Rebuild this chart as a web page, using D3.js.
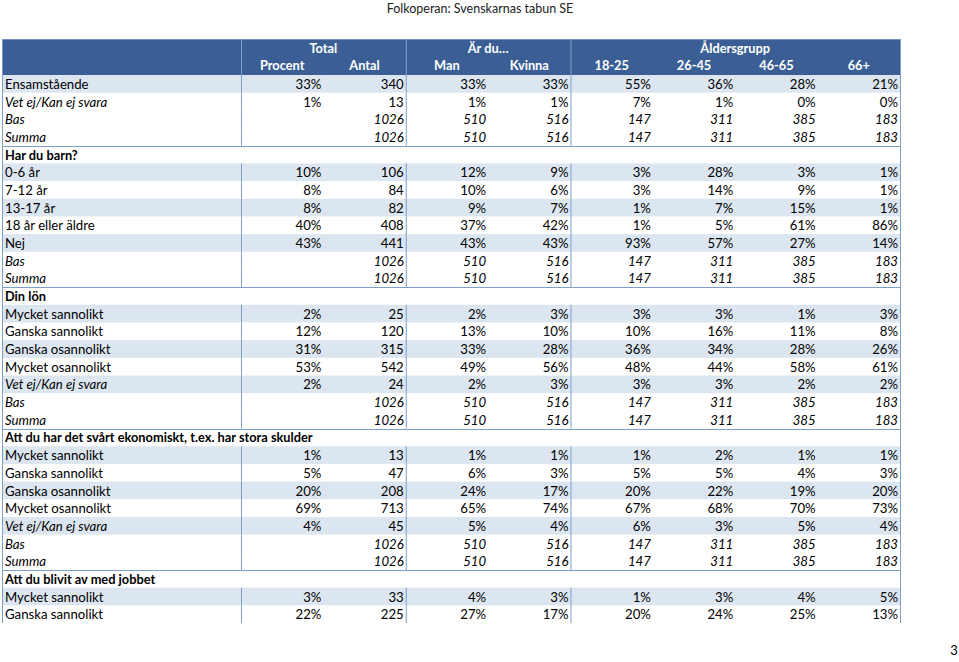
<!DOCTYPE html>
<html>
<head>
<meta charset="utf-8">
<script src="https://cdn.jsdelivr.net/npm/d3@7"></script>
<style>
  html, body { margin: 0; padding: 0; background: #fff; }
  svg { display: block; }
</style>
</head>
<body>
<script>
const title = "Folkoperan: Svenskarnas tabun SE";
const pageNumber = "3";
const groupLabels = ["Total", "Är du…", "Åldersgrupp"];
const groupSpans = [2, 2, 4];
const columnLabels = ["Procent", "Antal", "Man", "Kvinna", "18-25", "26-45", "46-65", "66+"];

const sectionTitles = ["", "Har du barn?", "Din lön",
  "Att du har det svårt ekonomiskt, t.ex. har stora skulder", "Att du blivit av med jobbet"];

const section0Labels = ["Ensamstående", "Vet ej/Kan ej svara", "Bas", "Summa"];
const section0Values = [
  ["33%", "340", "33%", "33%", "55%", "36%", "28%", "21%"],
  ["1%", "13", "1%", "1%", "7%", "1%", "0%", "0%"],
  ["", "1026", "510", "516", "147", "311", "385", "183"],
  ["", "1026", "510", "516", "147", "311", "385", "183"]
];
const section1Labels = ["0-6 år", "7-12 år", "13-17 år", "18 år eller äldre", "Nej", "Bas", "Summa"];
const section1Values = [
  ["10%", "106", "12%", "9%", "3%", "28%", "3%", "1%"],
  ["8%", "84", "10%", "6%", "3%", "14%", "9%", "1%"],
  ["8%", "82", "9%", "7%", "1%", "7%", "15%", "1%"],
  ["40%", "408", "37%", "42%", "1%", "5%", "61%", "86%"],
  ["43%", "441", "43%", "43%", "93%", "57%", "27%", "14%"],
  ["", "1026", "510", "516", "147", "311", "385", "183"],
  ["", "1026", "510", "516", "147", "311", "385", "183"]
];
const section2Labels = ["Mycket sannolikt", "Ganska sannolikt", "Ganska osannolikt", "Mycket osannolikt", "Vet ej/Kan ej svara", "Bas", "Summa"];
const section2Values = [
  ["2%", "25", "2%", "3%", "3%", "3%", "1%", "3%"],
  ["12%", "120", "13%", "10%", "10%", "16%", "11%", "8%"],
  ["31%", "315", "33%", "28%", "36%", "34%", "28%", "26%"],
  ["53%", "542", "49%", "56%", "48%", "44%", "58%", "61%"],
  ["2%", "24", "2%", "3%", "3%", "3%", "2%", "2%"],
  ["", "1026", "510", "516", "147", "311", "385", "183"],
  ["", "1026", "510", "516", "147", "311", "385", "183"]
];
const section3Labels = ["Mycket sannolikt", "Ganska sannolikt", "Ganska osannolikt", "Mycket osannolikt", "Vet ej/Kan ej svara", "Bas", "Summa"];
const section3Values = [
  ["1%", "13", "1%", "1%", "1%", "2%", "1%", "1%"],
  ["5%", "47", "6%", "3%", "5%", "5%", "4%", "3%"],
  ["20%", "208", "24%", "17%", "20%", "22%", "19%", "20%"],
  ["69%", "713", "65%", "74%", "67%", "68%", "70%", "73%"],
  ["4%", "45", "5%", "4%", "6%", "3%", "5%", "4%"],
  ["", "1026", "510", "516", "147", "311", "385", "183"],
  ["", "1026", "510", "516", "147", "311", "385", "183"]
];
const section4Labels = ["Mycket sannolikt", "Ganska sannolikt"];
const section4Values = [
  ["3%", "33", "4%", "3%", "1%", "3%", "4%", "5%"],
  ["22%", "225", "27%", "17%", "20%", "24%", "25%", "13%"]
];

const sectionLabels = [section0Labels, section1Labels, section2Labels, section3Labels, section4Labels];
const sectionValues = [section0Values, section1Values, section2Values, section3Values, section4Values];

// Build flat row list
const rows = [];
sectionTitles.forEach((t, s) => {
  if (t) rows.push({ type: "section", label: t });
  let k = 0;
  sectionLabels[s].forEach((lab, i) => {
    const summary = lab === "Bas" || lab === "Summa";
    const italicLabel = summary || lab.startsWith("Vet ej");
    rows.push({
      type: summary ? "summary" : "data",
      label: lab,
      values: sectionValues[s][i],
      banded: !summary && (k++ % 2 === 0),
      italicLabel,
      italicValues: summary,
      lastInSection: lab === "Summa"
    });
  });
});

const W = 959, H = 662;
const FONT = "Lato, 'Open Sans', sans-serif";
const headerColor = "#3b5f95";
const bandColor = "#dce6f1";
const lineColor = "#7d9fca";
const FS = 13.2, FSB = 12.8;

const svg = d3.select("body").append("svg").attr("width", W).attr("height", H)
  .style("font-family", FONT);

const tableLeft = 2, labelRight = 241, tableRight = 900;
const headerTop = 39, headerBottom = 75;
const rowsBottom = 623;

const x = d3.scaleBand().domain(d3.range(columnLabels.length)).range([labelRight, tableRight]);
const y = d3.scaleBand().domain(d3.range(rows.length)).range([headerBottom, rowsBottom]);

// Title
svg.append("text").attr("x", 480).attr("y", 13).attr("text-anchor", "middle")
  .attr("font-size", 12.5).attr("fill", "#222").text(title);

// Header
svg.append("rect").attr("x", tableLeft).attr("y", headerTop)
  .attr("width", tableRight - tableLeft).attr("height", headerBottom - headerTop)
  .attr("fill", headerColor);
svg.append("line").attr("x1", tableLeft).attr("x2", tableRight)
  .attr("y1", headerTop + 0.5).attr("y2", headerTop + 0.5)
  .attr("stroke", "#6f90c0").attr("stroke-width", 1);

let start = 0;
const groupBounds = [];
groupLabels.forEach((g, i) => {
  const x0 = x(start), x1 = x(start + groupSpans[i] - 1) + x.bandwidth();
  groupBounds.push([x0, x1]);
  svg.append("text").attr("x", (x0 + x1) / 2).attr("y", 49).attr("dy", "0.35em")
    .attr("text-anchor", "middle").attr("font-size", FSB).attr("font-weight", "bold")
    .attr("fill", "#fff").text(g);
  start += groupSpans[i];
});
columnLabels.forEach((c, i) => {
  svg.append("text").attr("x", x(i) + x.bandwidth() / 2).attr("y", 66).attr("dy", "0.35em")
    .attr("text-anchor", "middle").attr("font-size", FSB).attr("font-weight", "bold")
    .attr("fill", "#fff").text(c);
});
const sepXs = [labelRight].concat(groupBounds.slice(0, -1).map(b => b[1]));
sepXs.forEach(sx => {
  svg.append("line").attr("x1", sx + 0.5).attr("x2", sx + 0.5)
    .attr("y1", headerTop).attr("y2", headerBottom)
    .attr("stroke", "#7fa0cf").attr("stroke-width", 1);
});

// Row bands
rows.forEach((r, i) => {
  if (r.banded) {
    svg.append("rect").attr("x", tableLeft).attr("y", y(i))
      .attr("width", tableRight - tableLeft).attr("height", y.bandwidth())
      .attr("fill", bandColor);
  }
});

// Vertical lines in data rows + section separators
rows.forEach((r, i) => {
  if (r.type !== "section") {
    sepXs.forEach(sx => {
      svg.append("line").attr("x1", sx + 0.5).attr("x2", sx + 0.5)
        .attr("y1", y(i)).attr("y2", y(i) + y.bandwidth())
        .attr("stroke", lineColor).attr("stroke-width", 1);
    });
  }
  if (r.lastInSection) {
    const ly = Math.round(y(i) + y.bandwidth()) + 0.5;
    svg.append("line").attr("x1", tableLeft).attr("x2", tableRight)
      .attr("y1", ly).attr("y2", ly).attr("stroke", lineColor).attr("stroke-width", 1);
  }
});

// Outer borders
[tableLeft, tableRight].forEach(bx => {
  svg.append("line").attr("x1", bx + 0.5).attr("x2", bx + 0.5)
    .attr("y1", headerTop).attr("y2", rowsBottom)
    .attr("stroke", lineColor).attr("stroke-width", 1);
});

// Text
rows.forEach((r, i) => {
  const cy = y(i) + y.bandwidth() / 2 + 0.5;
  svg.append("text").attr("x", 5).attr("y", cy).attr("dy", "0.35em")
    .attr("font-size", r.type === "section" ? FSB : FS).attr("fill", "#000")
    .attr("font-weight", r.type === "section" ? "bold" : "normal")
    .attr("font-style", r.italicLabel ? "italic" : "normal")
    .text(r.label);
  if (r.values) {
    r.values.forEach((v, j) => {
      if (!v) return;
      svg.append("text").attr("x", x(j) + x.bandwidth() - 2).attr("y", cy).attr("dy", "0.35em")
        .attr("text-anchor", "end").attr("font-size", FS).attr("fill", "#000")
        .attr("font-style", r.italicValues ? "italic" : "normal")
        .text(v);
    });
  }
});

// Page number
svg.append("text").attr("x", 954).attr("y", 650).attr("dy", "0.35em")
  .attr("text-anchor", "middle").attr("font-size", 13).attr("fill", "#000").text(pageNumber);
</script>
</body>
</html>
